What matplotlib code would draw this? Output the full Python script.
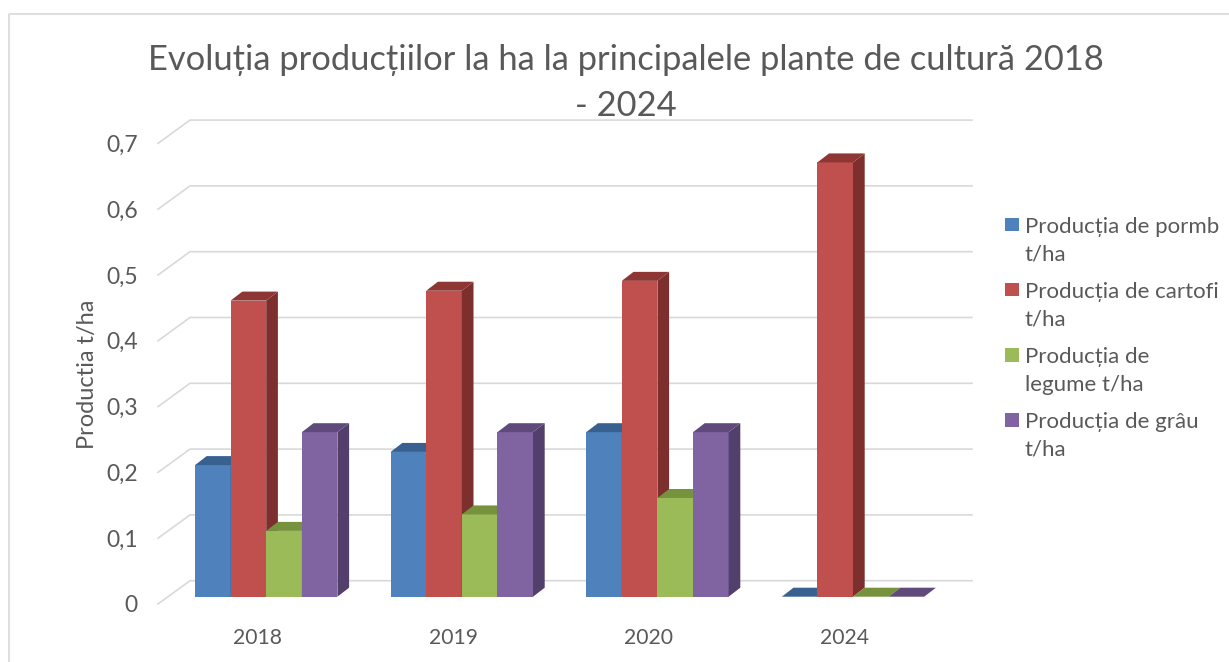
import numpy as np
import matplotlib
matplotlib.use("Agg")
import matplotlib.pyplot as plt
from matplotlib.legend_handler import HandlerPatch
from matplotlib.lines import Line2D
from matplotlib.patches import Patch, Rectangle

plt.rcParams['font.family'] = ['Lato', 'Noto Sans', 'DejaVu Sans']

# date
years = ["2018", "2019", "2020", "2024"]
porumb = [0.2, 0.22, 0.25, 0]
cartofi = [0.45, 0.465, 0.48, 0.66]
legume = [0.1, 0.125, 0.15, 0]
grau = [0.25, 0.25, 0.25, 0]
y_ticks = [0, 0.1, 0.2, 0.3, 0.4, 0.5, 0.6, 0.7]
y_labels = ["0", "0,1", "0,2", "0,3", "0,4", "0,5", "0,6", "0,7"]
names = ["Producția de pormb\nt/ha", "Producția de cartofi\nt/ha",
         "Producția de\nlegume t/ha", "Producția de grâu\nt/ha"]
title = "Evoluția producțiilor la ha la principalele plante de cultură 2018\n- 2024"

series = [porumb, cartofi, legume, grau]
front_col = ["#4F81BD", "#C0504D", "#9BBB59", "#8064A2"]
side_col = ["#3A6595", "#7D2F2D", "#748D42", "#533F6B"]
top_col = ["#38618F", "#8E3634", "#76923C", "#604A7B"]

W, H = 1229, 662
TXT = "#595959"
GRID = "#d9d9d9"

fig = plt.figure(figsize=(W / 100, H / 100), dpi=100)
# axa e pusa pe planul din fata, unde incep liniile oblice
left, right, bottom, top = 158, 972, 604, 143.4
ax = fig.add_axes([left / W, 1 - bottom / H, (right - left) / W, (bottom - top) / H])

step = 195.6  # px intre categorii
unit = (bottom - top) / 0.7  # px pe unitate
x0 = 266.2
ax.set_xlim((left - x0) / step, (right - x0) / step)
ax.set_ylim(0, 0.7)
x = np.arange(len(years))
w = 35.6 / step

lift = (bottom - 596.7) / unit  # baza barelor
back = (bottom - 580.7) / unit  # peretele din spate
dx = 11.7 / step
dy = 9 / unit
xl = ax.get_xlim()[0]
xb = xl + (190 - left) / step

# linii de grila cu partea oblica
for v in y_ticks:
    ax.plot([xl, xb, ax.get_xlim()[1]], [v, v + back, v + back], color=GRID, lw=1.2,
            clip_on=False, zorder=1, solid_joinstyle="miter")

# barele, de la stanga la dreapta ca sa se acopere corect
for s, vals in enumerate(series):
    xs = x + (s - 1.5) * w
    ax.bar(xs, vals, w, bottom=lift, color=front_col[s], zorder=3 + s, clip_on=False)
    for xi, v in zip(xs, vals):
        a, b = xi - w / 2, xi + w / 2
        t = v + lift
        ax.fill([b, b + dx, b + dx, b], [lift, lift + dy, t + dy, t], color=side_col[s], lw=0,
                zorder=3 + s, clip_on=False)
        ax.fill([a, a + dx, b + dx, b], [t, t + dy, t + dy, t], color=top_col[s], lw=0,
                zorder=3 + s, clip_on=False)

for sp in ax.spines.values():
    sp.set_visible(False)
ax.set_yticks(y_ticks, y_labels)
ax.set_xticks(x - 8.8 / step, years)
ax.tick_params(axis="y", length=0, pad=14.5, labelsize=16.5, labelcolor=TXT)
ax.tick_params(axis="x", length=0, pad=17.5, labelsize=15.2, labelcolor=TXT)
ax.set_ylabel("Productia t/ha", fontsize=17, color=TXT)
ax.yaxis.set_label_coords((98 - left) / (right - left), (bottom - 374) / (bottom - top))

fig.text(626 / W, 1 - 43.5 / H, title, ha="center", va="top", fontsize=24.8, color=TXT, linespacing=1.56)


# patratelul sta in dreptul primului rand de text
class TopSwatch(HandlerPatch):
    def create_artists(self, legend, orig, xd, yd, width, height, fontsize, trans):
        r = Rectangle((0, 12.5), 10, 10, facecolor=orig.get_facecolor(), edgecolor="none", transform=trans)
        return [r]


handles = [Patch(facecolor=c) for c in front_col]
leg = fig.legend(handles, names, loc="upper left", bbox_to_anchor=(1005 / W, 1 - 217 / H), frameon=False,
                 fontsize=16, labelcolor=TXT, borderpad=0, borderaxespad=0, handlelength=0.63, handletextpad=0.25,
                 labelspacing=0.79, handler_map={Patch: TopSwatch()})
for t_ in leg.get_texts():
    t_.set_linespacing(1.47)

# chenarul graficului
fig.add_artist(Line2D([8.5 / W, 8.5 / W, 1], [0, 1 - 13.5 / H, 1 - 13.5 / H], color=GRID, lw=1.2))

fig.savefig("out.png", dpi=100)
